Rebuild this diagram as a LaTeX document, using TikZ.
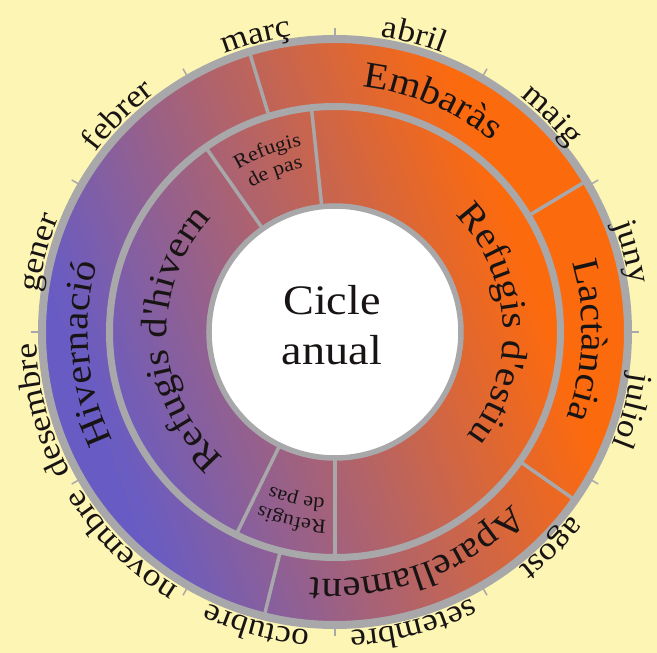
\documentclass[tikz,border=0pt]{standalone}
\usepackage{fontspec}
\setmainfont{Liberation Serif}[FakeStretch=1.1, Ligatures=TeXOff]
\usetikzlibrary{decorations.text}
\definecolor{bgyellow}{RGB}{253,245,180}
\definecolor{ringgray}{RGB}{168,168,170}
\definecolor{purp}{RGB}{104,92,196}
\definecolor{orng}{RGB}{252,106,14}
\definecolor{ink}{RGB}{25,20,20}
\newcommand\ringtext[4]{%
  \path[decorate,decoration={text along path,text align=center,
    text={|\fontsize{#3}{#3}\selectfont\color{ink}|#4}}]
    (#1+80:#2pt) arc[start angle=#1+80, end angle=#1-80, radius=#2pt];}
\tikzset{
  sep/.style={ringgray, line width=3.5pt},
  tick/.style={ringgray, line width=1.5pt},
}
\begin{document}
\begin{tikzpicture}[x=1pt,y=1pt]
\fill[bgyellow] (-335,-321) rectangle (322,332);
\useasboundingbox (-335,-321) rectangle (322,332);
% gradient disk
\begin{scope}
  \clip (0,0) circle[radius=290pt];
  \begin{scope}[transform canvas={rotate=20}]
    \fill[orng] (-400,-400) rectangle (400,400);
    \fill[purp] (-400,-400) rectangle (-250,400);
    \shade[left color=purp, right color=orng] (-250,-400) rectangle (200,400);
  \end{scope}
\end{scope}
% separators
\foreach \a in {107,31,-35,-104} \draw[sep] (\a:228pt) -- (\a:290pt);
\foreach \a in {125,96,-90,-116} \draw[sep] (\a:128pt) -- (\a:223pt);
% rings
\draw[ringgray, line width=8pt] (0,0) circle[radius=293pt];
\draw[ringgray, line width=7pt] (0,0) circle[radius=225.5pt];
\fill[white] (0,0) circle[radius=126pt];
\draw[ringgray, line width=5.5pt] (0,0) circle[radius=126pt];
% ticks
\foreach \a in {0,30,...,330} \draw[tick] (\a:296pt) -- (\a:304pt);
% centre text
\node[anchor=base, font=\fontsize{42}{42}\selectfont, text=ink, inner sep=0] (cicle) at (-3,17) {Cicle};
\node[anchor=base, font=\fontsize{42}{42}\selectfont, text=ink, inner sep=0] (anual) at (-3,-33) {anual};
% ring labels
\ringtext{185}{247}{37}{Hivernació}
\ringtext{67}{247}{37}{Embaràs}
\ringtext{-2}{247}{37}{Lactància}
\ringtext{-70}{247}{37}{Aparellament}
\ringtext{183}{168}{37}{Refugis d'hivern}
\ringtext{3}{168}{37}{Refugis d'estiu}
\ringtext{110.5}{189}{20}{Refugis}
\ringtext{110.5}{167}{20}{de pas}
\ringtext{-103}{189}{20}{Refugis}
\ringtext{-103}{167}{20}{de pas}
% months
\ringtext{165}{299}{32}{gener}
\ringtext{135}{299}{32}{febrer}
\ringtext{105}{299}{32}{març}
\ringtext{75}{299}{32}{abril}
\ringtext{45}{299}{32}{maig}
\ringtext{15}{299}{32}{juny}
\ringtext{-15}{299}{32}{juliol}
\ringtext{-45}{299}{32}{agost}
\ringtext{-75}{299}{32}{setembre}
\ringtext{-105}{299}{32}{octubre}
\ringtext{-135}{299}{32}{novembre}
\ringtext{-165}{299}{32}{desembre}
\end{tikzpicture}
\end{document}
